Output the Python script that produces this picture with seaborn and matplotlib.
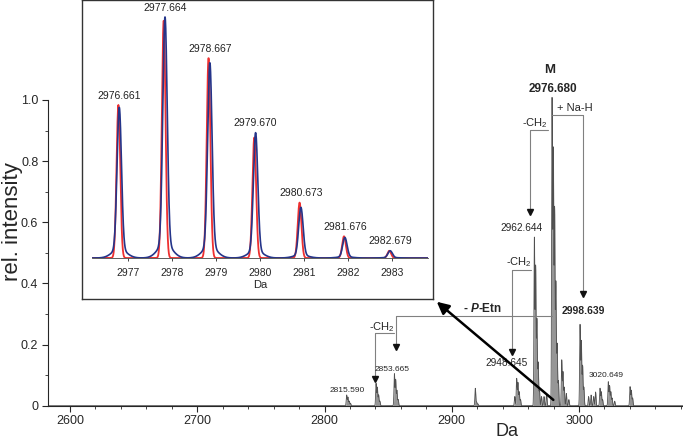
import matplotlib
matplotlib.use("Agg")
import matplotlib.pyplot as plt
from matplotlib.ticker import MultipleLocator, FixedLocator
import numpy as np
import pandas as pd
import seaborn as sns

# main spectrum: peak positions (Da) and relative heights
main_mz = [2817.4, 2818.4, 2819.4, 2820.4,
           2840.5, 2841.5, 2842.5, 2843.5,
           2854.9, 2855.9, 2856.9, 2857.9,
           2918.5, 2919.5, 2920.5,
           2949.5, 2951.0, 2952.0, 2953.0, 2954.0,
           2964.9, 2965.9, 2966.9, 2967.9, 2968.9, 2970.5, 2972.5, 2974.5,
           2978.8, 2979.8, 2980.8, 2981.8, 2982.8, 2983.8,
           2986.4, 2987.4, 2988.4, 2990.0, 2992.0,
           3000.8, 3001.8, 3002.8, 3003.8,
           3007.5, 3009.5, 3011.5, 3013.0, 3016.5, 3017.5, 3018.5,
           3023.0, 3024.0, 3025.0, 3026.0, 3028.0,
           3040.1, 3041.1, 3042.1]
main_int = [0.035, 0.028, 0.015, 0.008,
            0.073, 0.060, 0.035, 0.015,
            0.104, 0.085, 0.050, 0.020,
            0.057, 0.012, 0.006,
            0.030, 0.089, 0.075, 0.045, 0.020,
            0.547, 0.452, 0.280, 0.140, 0.050, 0.030, 0.030, 0.040,
            1.000, 0.830, 0.640, 0.400, 0.200, 0.080,
            0.149, 0.110, 0.060, 0.040, 0.020,
            0.264, 0.210, 0.130, 0.060,
            0.030, 0.035, 0.030, 0.045, 0.057, 0.045, 0.020,
            0.078, 0.065, 0.045, 0.025, 0.015,
            0.062, 0.050, 0.025]

# inset: isotope pattern, measured (blue) vs simulated (red)
iso_labels = ["2976.661", "2977.664", "2978.667", "2979.670",
              "2980.673", "2981.676", "2982.679"]
blue_mz = [2976.80, 2977.84, 2978.86, 2979.90, 2980.93, 2981.93, 2982.96]
blue_int = [0.625, 1.000, 0.810, 0.520, 0.210, 0.085, 0.030]
red_mz = [2976.78, 2977.81, 2978.83, 2979.87, 2980.90, 2981.91, 2982.94]
red_int = [0.635, 0.985, 0.830, 0.500, 0.230, 0.090, 0.030]


def profile(x, centers, heights, width, shoulder=0.0):
    # narrow peak plus optional low broad base, peak top stays at h
    y = np.zeros_like(x)
    for c, h in zip(centers, heights):
        y += h * (1 - shoulder) * np.exp(-0.5 * ((x - c) / width) ** 2)
        if shoulder:
            y += shoulder * h * np.exp(-0.5 * ((x - c) / 0.16) ** 2)
    return y


sns.set_style("ticks")
plt.rcParams["font.family"] = ["Liberation Sans", "DejaVu Sans"]
plt.rcParams["mathtext.fontset"] = "custom"
plt.rcParams["mathtext.rm"] = "Liberation Sans"
plt.rcParams["mathtext.it"] = "Liberation Sans:italic"
plt.rcParams["mathtext.bf"] = "Liberation Sans:bold"
plt.rcParams["mathtext.bfit"] = "Liberation Sans:italic:bold"

fig = plt.figure(figsize=(6.83, 4.38), dpi=100)
ax = fig.add_axes([48 / 683, 32.3 / 438, 635 / 683, 405.7 / 438])

x = np.arange(2582.7, 3081.7, 0.05)
spec = pd.DataFrame({"Da": x, "I": profile(x, main_mz, main_int, 0.33)})
ax.fill_between(spec["Da"], spec["I"], color="#969696", lw=0)
sns.lineplot(data=spec, x="Da", y="I", ax=ax, color="#505050", lw=0.6)

ax.set_xlim(2582.7, 3081.7)
ax.set_ylim(0, 1.327)
ax.xaxis.set_major_locator(MultipleLocator(100))
ax.xaxis.set_minor_locator(MultipleLocator(20))
ax.set_yticks([0, 0.2, 0.4, 0.6, 0.8, 1.0])
ax.set_yticklabels(["0", "0.2", "0.4", "0.6", "0.8", "1.0"])
ax.yaxis.set_minor_locator(FixedLocator([0.1, 0.3, 0.5, 0.7, 0.9]))
ax.tick_params(axis="both", which="major", length=4, width=0.8, labelsize=9, pad=3)
ax.tick_params(axis="both", which="minor", length=2.5, width=0.6)
sns.despine(ax=ax)
ax.spines["left"].set_bounds(0, 1.0)
ax.set_xlabel("")
ax.set_ylabel("rel. intensity", fontsize=16)
ax.yaxis.set_label_coords(-0.04, 0.453)
fig.text(507 / 683, 1 - 435.5 / 438, "Da", fontsize=13, ha="center", va="baseline")

# annotations
br = dict(color="#808080", lw=0.8)
tip = dict(marker="v", color="#111111", ms=4, ls="none")

ax.text(2977.2, 1.098, "M", fontsize=9.5, fontweight="bold", ha="center", va="center")
ax.text(2979.6, 1.036, "2976.680", fontsize=8.5, fontweight="bold", ha="center", va="center")

ax.text(2996.9, 0.974, "+ Na-H", fontsize=8, ha="center", va="center")
ax.plot([2978.8, 3003.1, 3003.1], [0.951, 0.951, 0.37], **br)
ax.plot([3003.1], [0.365], **tip)
ax.text(3003.1, 0.31, "2998.639", fontsize=7.5, fontweight="bold", ha="center", va="center")

ax.text(2965.4, 0.925, "-CH$_2$", fontsize=8, ha="center", va="center")
ax.plot([2975.6, 2961.5, 2961.5], [0.902, 0.902, 0.64], **br)
ax.plot([2961.5], [0.633], **tip)
ax.text(2954.4, 0.581, "2962.644", fontsize=7.3, ha="center", va="center")

ax.text(2952.8, 0.470, "-CH$_2$", fontsize=8, ha="center", va="center")
ax.plot([2962.3, 2947.3, 2947.3], [0.443, 0.443, 0.18], **br)
ax.plot([2947.3], [0.176], **tip)
ax.text(2943.4, 0.14, "2948.645", fontsize=7.3, ha="center", va="center")

ax.text(2923.8, 0.319, r"- $\mathbfit{P}$-Etn", fontsize=8.5, fontweight="bold",
        ha="center", va="center")
ax.plot([2978.8, 2856.2, 2856.2], [0.293, 0.293, 0.195], **br)
ax.plot([2856.2], [0.192], **tip)
ax.text(2853.0, 0.12, "2853.665", fontsize=6, ha="center", va="center")

ax.text(2845.2, 0.257, "-CH$_2$", fontsize=8, ha="center", va="center")
ax.plot([2854.6, 2839.7, 2839.7], [0.238, 0.238, 0.09], **br)
ax.plot([2839.7], [0.087], **tip)
ax.text(2817.7, 0.051, "2815.590", fontsize=6, ha="center", va="center")
ax.text(3021.2, 0.10, "3020.649", fontsize=6, ha="center", va="center")

ax.annotate("", xy=(2888.2, 0.340), xytext=(2979.8, 0.019),
            arrowprops=dict(arrowstyle="-|>", color="black", lw=1.8,
                            mutation_scale=18, shrinkA=0, shrinkB=0))

# inset frame and plot
frame = fig.add_axes([82 / 683, 139 / 438, 351 / 683, 299 / 438])
frame.set_xticks([])
frame.set_yticks([])
for s in frame.spines.values():
    s.set_visible(True)
    s.set_color("#333333")
    s.set_linewidth(1.0)
frame.patch.set_facecolor("white")

ins = fig.add_axes([92 / 683, 180 / 438, 336 / 683, 258 / 438])
ins.patch.set_alpha(0)
xi = np.arange(2976.18, 2983.82, 0.004)
red_df = pd.DataFrame({"Da": xi, "I": profile(xi, red_mz, red_int, 0.042)})
blue_df = pd.DataFrame({"Da": xi, "I": profile(xi, blue_mz, blue_int, 0.05, shoulder=0.06)})
sns.lineplot(data=red_df, x="Da", y="I", ax=ins, color="#ee3030", lw=1.3)
sns.lineplot(data=blue_df, x="Da", y="I", ax=ins, color="#25358a", lw=1.2)
for c, h1, h2, lab in zip(blue_mz, blue_int, red_int, iso_labels):
    ins.text(c, max(h1, h2) + 0.018, lab, fontsize=7.5, ha="center", va="bottom",
             color="#222222")
ins.set_xlim(2976.18, 2983.82)
ins.set_ylim(0, 1.0705)
ins.set_xticks(range(2977, 2984))
ins.set_yticks([])
ins.tick_params(axis="x", length=2, width=0.6, labelsize=7.5, pad=5)
sns.despine(ax=ins, left=True)
ins.spines["bottom"].set_linewidth(0.6)
ins.spines["bottom"].set_color("#444444")
ins.set_xlabel("Da", fontsize=8, labelpad=2)
ins.set_ylabel("")

fig.savefig("out.png", dpi=100)
